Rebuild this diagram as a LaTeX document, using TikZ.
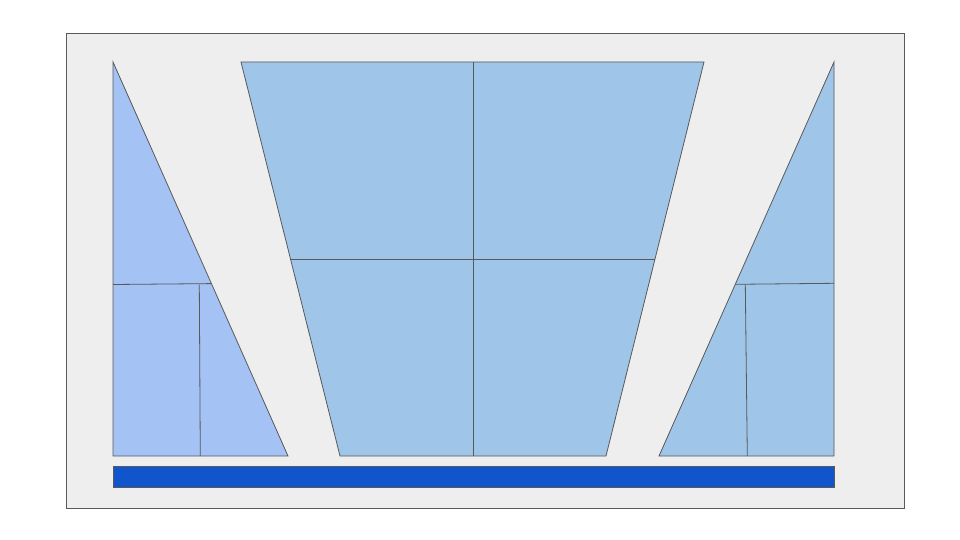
\documentclass[tikz,border=0pt]{standalone}
\usetikzlibrary{calc}
\definecolor{bgc}{HTML}{EEEEEE}
\definecolor{linec}{HTML}{595959}
\definecolor{lightblue}{HTML}{A4C2F4}
\definecolor{paleblue}{HTML}{9FC5E8}
\definecolor{barblue}{HTML}{1155CC}
\tikzset{
  outlined/.style={draw=linec, line width=0.8pt, line join=miter},
  divider/.style={draw=linec, line width=0.8pt}
}
\begin{document}
\begin{tikzpicture}[x=1pt,y=-1pt]
\useasboundingbox (0,0) rectangle (960,540);
\fill[white] (0,0) rectangle (960,540);
% frame
\draw[outlined, fill=bgc] (66,33) rectangle (904,508);
% left triangle
\coordinate (LA) at (113,62);
\coordinate (LB) at (113,456);
\coordinate (LC) at (288,456);
\draw[outlined, fill=lightblue] (LA) -- (LB) -- (LC) -- cycle;
\coordinate (LH1) at (113,284.5);
\coordinate (LH2) at (211.4,283.6);
\draw[divider] (LH1) -- (LH2);
\draw[divider] (199.3,284.5) -- (200.3,456);
% trapezoid
\coordinate (T1) at (241,62);
\coordinate (T2) at (704,62);
\coordinate (T3) at (606,456);
\coordinate (T4) at (340,456);
\draw[outlined, fill=paleblue] (T1) -- (T2) -- (T3) -- (T4) -- cycle;
\draw[divider] (473,62) -- (473,456);
\draw[divider] (290.5,259) -- (655,259);
% right triangle
\coordinate (RA) at (834,62);
\coordinate (RB) at (834,456);
\coordinate (RC) at (659,456);
\draw[outlined, fill=paleblue] (RA) -- (RB) -- (RC) -- cycle;
\draw[divider] (735.6,284.3) -- (834,283.3);
\draw[divider] (745.3,284.3) -- (747.3,456);
% bar
\draw[outlined, fill=barblue] (113,466) rectangle (834,487.5);
\end{tikzpicture}
\end{document}
